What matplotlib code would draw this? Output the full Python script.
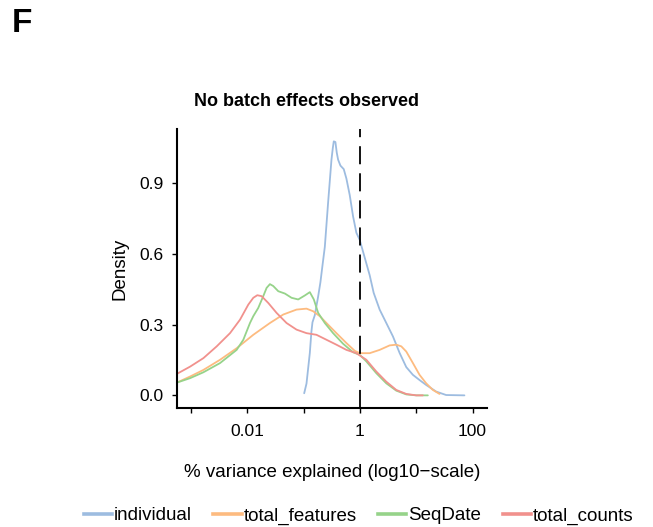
import matplotlib
matplotlib.use("Agg")
import matplotlib.pyplot as plt
from matplotlib.lines import Line2D
import numpy as np

plt.rcParams["font.family"] = ["Liberation Sans", "DejaVu Sans"]

# Density of % variance explained per variable, x given as log10(% variance)
individual_log10 = [-0.988, -0.947, -0.888, -0.860, -0.841, -0.800, -0.770, -0.740,
                    -0.700, -0.664, -0.622, -0.563, -0.504, -0.480, -0.463, -0.434,
                    -0.410, -0.386, -0.345, -0.286, -0.239, -0.180, -0.121, -0.062,
                    -0.003, 0.056, 0.115, 0.174, 0.245, 0.351, 0.469, 0.587,
                    0.705, 0.823, 0.941, 1.059, 1.177, 1.354, 1.531, 1.855]
individual_dens = [0.009, 0.05, 0.18, 0.27, 0.31, 0.34, 0.38, 0.42,
                   0.48, 0.55, 0.63, 0.82, 1.0, 1.05, 1.078, 1.075,
                   1.03, 1.0, 0.975, 0.96, 0.92, 0.85, 0.76, 0.69,
                   0.66, 0.61, 0.56, 0.51, 0.435, 0.364, 0.307, 0.25,
                   0.18, 0.12, 0.087, 0.065, 0.044, 0.016, 0.0014, 0.0]

features_log10 = [-3.248, -3.012, -2.776, -2.481, -2.186, -1.891, -1.596, -1.360,
                  -1.124, -0.947, -0.829, -0.711, -0.593, -0.416, -0.239, -0.091,
                  -0.003, 0.174, 0.351, 0.528, 0.646, 0.735, 0.823, 0.941,
                  1.059, 1.177, 1.295, 1.413]
features_dens = [0.054, 0.08, 0.108, 0.151, 0.2, 0.257, 0.307, 0.343,
                 0.364, 0.368, 0.357, 0.336, 0.307, 0.264, 0.222, 0.189,
                 0.179, 0.179, 0.193, 0.212, 0.215, 0.208, 0.186, 0.137,
                 0.087, 0.051, 0.023, 0.006]

seqdate_log10 = [-3.248, -3.012, -2.776, -2.481, -2.186, -2.068, -1.950, -1.891,
                 -1.803, -1.714, -1.655, -1.596, -1.537, -1.448, -1.330, -1.212,
                 -1.094, -0.976, -0.888, -0.817, -0.740, -0.622, -0.475, -0.298,
                 -0.121, -0.003, 0.115, 0.292, 0.469, 0.646, 0.823, 1.000, 1.206]
seqdate_dens = [0.054, 0.073, 0.098, 0.137, 0.193, 0.236, 0.307, 0.336,
                0.371, 0.421, 0.456, 0.472, 0.464, 0.442, 0.432, 0.414,
                0.407, 0.424, 0.438, 0.407, 0.35, 0.307, 0.264, 0.219,
                0.183, 0.172, 0.144, 0.094, 0.051, 0.02, 0.004, 0.0, 0.0]

counts_log10 = [-3.248, -3.012, -2.776, -2.540, -2.304, -2.127, -1.980, -1.891,
                -1.820, -1.744, -1.625, -1.478, -1.301, -1.124, -0.947, -0.770,
                -0.593, -0.416, -0.239, -0.062, 0.115, 0.292, 0.469, 0.646,
                0.823, 1.000, 1.118]
counts_dens = [0.091, 0.122, 0.158, 0.208, 0.264, 0.321, 0.385, 0.414,
               0.425, 0.421, 0.392, 0.35, 0.307, 0.279, 0.264, 0.257,
               0.236, 0.215, 0.193, 0.179, 0.151, 0.101, 0.058, 0.023,
               0.006, 0.0, 0.0]

labels = ["individual", "total_features", "SeqDate", "total_counts"]
colors = ["#9dbce0", "#fdbb80", "#96d38a", "#f1918d"]

fig = plt.figure(figsize=(6.53, 5.27), dpi=100)
ax = fig.add_axes([0.2706, 0.2252, 0.4747, 0.5294])

series = [(individual_log10, individual_dens),
          (features_log10, features_dens),
          (seqdate_log10, seqdate_dens),
          (counts_log10, counts_dens)]
for (lx, d), c in zip(series, colors):
    ax.plot(10 ** np.array(lx), d, color=c, lw=1.3,
            solid_capstyle="round", solid_joinstyle="round")

ax.axvline(1, color="black", lw=1.3, linestyle=(0, (10, 5)))

ax.set_xscale("log")
ax.set_xlim(10 ** -3.25, 10 ** 2.25)
ax.set_ylim(-0.055, 1.129)
ax.set_xticks([0.001, 0.01, 0.1, 1, 10, 100])
ax.set_xticklabels(["", "0.01", "", "1", "", "100"])
ax.xaxis.set_minor_locator(matplotlib.ticker.NullLocator())
ax.set_yticks([0.0, 0.3, 0.6, 0.9])
ax.set_yticklabels(["0.0", "0.3", "0.6", "0.9"])

for side in ["top", "right"]:
    ax.spines[side].set_visible(False)
for side in ["left", "bottom"]:
    ax.spines[side].set_linewidth(1.5)
ax.tick_params(axis="both", length=3.5, width=1.0, labelsize=12.5, color="black")
ax.tick_params(axis="x", pad=8)
ax.tick_params(axis="y", pad=6)

ax.set_xlabel("% variance explained (log10\u2212scale)", fontsize=13.5, labelpad=18)
ax.set_ylabel("Density", fontsize=13.5, labelpad=8)

fig.text(306 / 653, 1 - 102 / 527, "No batch effects observed", ha="center",
         va="center", fontsize=13, fontweight="bold")
fig.text(12 / 653, 1 - 24 / 527, "F", ha="left", va="center",
         fontsize=24, fontweight="bold")

handles = [Line2D([0], [0], color=c, lw=2.6) for c in colors]
fig.legend(handles, labels, loc="center", bbox_to_anchor=(358.5 / 653, 1 - 516 / 527),
           ncol=4, frameon=False, fontsize=13.5, handlelength=1.5,
           handletextpad=0.1, columnspacing=1.15, borderaxespad=0)

fig.savefig("out.png", dpi=100)
